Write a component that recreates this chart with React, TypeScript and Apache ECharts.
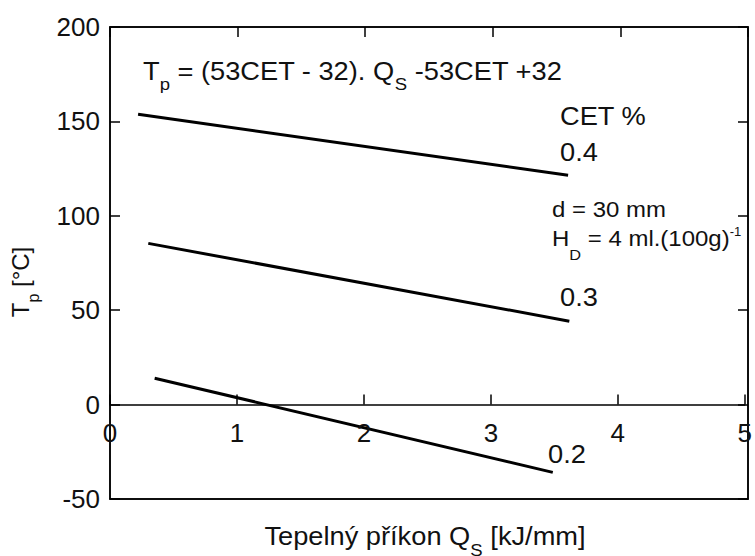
import React, { useEffect, useRef } from "react";
import * as echarts from "echarts";

// CET % levels and the end points of each line (Q_S [kJ/mm], T_p [°C])
const cetLevels = ["0.4", "0.3", "0.2"];
const qStart = [0.22, 0.3, 0.35];
const tStart = [153.8, 85.4, 14.0];
const qEnd = [3.59, 3.6, 3.47];
const tEnd = [121.5, 44.2, -35.9];

const xTicks = [0, 1, 2, 3, 4, 5];
const yTicks = [-50, 0, 50, 100, 150, 200];

const FONT = "'Liberation Sans', Arial, Helvetica, sans-serif";
const INK = "#111";
const SX = 1.09; // the original figure is slightly stretched horizontally

export default function App() {
  const ref = useRef<HTMLDivElement>(null);

  useEffect(() => {
    if (!ref.current) return;
    const chart = echarts.init(ref.current, undefined, { renderer: "svg" });

    const H = 556;
    const gridLeft = 110;
    const gridRight = 7;
    const gridTop = 27;
    const gridBottom = 57;
    const yMin = yTicks[0];
    const yMax = yTicks[yTicks.length - 1];
    const gridH = H - gridTop - gridBottom;
    // bottom offset of the y = 0 line (used for the in-plot x axis)
    const zeroBottom = gridBottom + (gridH * (0 - yMin)) / (yMax - yMin);

    const series = cetLevels.map((lvl, i) => ({
      name: lvl,
      type: "line",
      data: [
        [qStart[i], tStart[i]],
        [qEnd[i], tEnd[i]],
      ],
      showSymbol: false,
      symbol: "none",
      lineStyle: { color: "#000", width: 3 },
      xAxisIndex: 0,
      yAxisIndex: 0,
      z: 3,
    }));

    const black = { color: "#000", width: 1.5 };
    const plain = (x: number, y: number, text: string, size: number) => ({
      type: "text",
      x,
      y,
      scaleX: SX,
      style: { text, fontSize: size, fontFamily: FONT, fill: INK, align: "left", verticalAlign: "middle" },
    });

    chart.setOption({
      animation: false,
      backgroundColor: "#fff",
      textStyle: { fontFamily: FONT },
      grid: [
        {
          left: gridLeft,
          right: gridRight,
          top: gridTop,
          bottom: gridBottom,
          show: true,
          borderColor: "#000",
          borderWidth: 1.5,
          backgroundColor: "transparent",
        },
        {
          left: gridLeft,
          right: gridRight,
          top: gridTop,
          bottom: zeroBottom,
          show: false,
        },
      ],
      xAxis: [
        {
          gridIndex: 0,
          type: "value",
          min: xTicks[0],
          max: xTicks[xTicks.length - 1],
          interval: 1,
          position: "bottom",
          axisLine: { show: true, onZero: false, lineStyle: black },
          axisTick: { show: false },
          axisLabel: { show: false },
          splitLine: { show: false },
        },
        {
          gridIndex: 0,
          type: "value",
          min: xTicks[0],
          max: xTicks[xTicks.length - 1],
          interval: 1,
          position: "top",
          axisLine: { show: true, onZero: false, lineStyle: black },
          axisTick: { show: true, inside: true, length: 10, lineStyle: black },
          axisLabel: { show: false },
          splitLine: { show: false },
        },
        {
          gridIndex: 1,
          type: "value",
          min: xTicks[0],
          max: xTicks[xTicks.length - 1],
          interval: 1,
          position: "bottom",
          axisLine: { show: true, onZero: false, lineStyle: black },
          axisTick: { show: true, inside: true, length: 10, lineStyle: black },
          axisLabel: { show: true, margin: 15, fontSize: 26, color: INK, fontFamily: FONT },
          splitLine: { show: false },
          z: 4,
        },
      ],
      yAxis: [
        {
          gridIndex: 0,
          type: "value",
          min: yMin,
          max: yMax,
          interval: 50,
          position: "left",
          axisLine: { show: true, onZero: false, lineStyle: black },
          axisTick: { show: true, inside: true, length: 10, lineStyle: black },
          axisLabel: { show: true, margin: 10, fontSize: 26, color: INK, fontFamily: FONT },
          splitLine: { show: false },
        },
        {
          gridIndex: 0,
          type: "value",
          min: yMin,
          max: yMax,
          interval: 50,
          position: "right",
          axisLine: { show: true, onZero: false, lineStyle: black },
          axisTick: { show: true, inside: true, length: 10, lineStyle: black },
          axisLabel: { show: false },
          splitLine: { show: false },
        },
        {
          gridIndex: 1,
          type: "value",
          min: 0,
          max: yMax,
          show: false,
        },
      ],
      series,
      graphic: [
        {
          type: "text",
          x: 143,
          y: 71,
          scaleX: SX,
          style: {
            text: "{n|T}{sub|p}{n| = (53CET - 32). Q}{sub|S}{n| -53CET +32}",
            align: "left",
            verticalAlign: "middle",
            rich: {
              n: { fontSize: 25, fontFamily: FONT, fill: INK },
              sub: { fontSize: 17, fontFamily: FONT, fill: INK, padding: [27, 0, 0, 0] },
            },
          },
        },
        plain(560, 116, "CET %", 25),
        plain(560, 152, cetLevels[0], 25),
        plain(560, 297, cetLevels[1], 25),
        plain(548, 454, cetLevels[2], 25),
        plain(552, 209, "d = 30 mm", 22),
        {
          type: "text",
          x: 552,
          y: 238,
          scaleX: SX,
          style: {
            text: "{n|H}{sub|D}{n| = 4 ml.(100g)}{sup|-1}",
            align: "left",
            verticalAlign: "middle",
            rich: {
              n: { fontSize: 22, fontFamily: FONT, fill: INK },
              sub: { fontSize: 15, fontFamily: FONT, fill: INK, padding: [34, 0, 0, 0] },
              sup: { fontSize: 12, fontFamily: FONT, fill: INK, padding: [0, 0, 12, 0] },
            },
          },
        },
        {
          type: "text",
          x: 425,
          y: 536,
          scaleX: SX,
          style: {
            text: "{n|Tepelný příkon Q}{sub|S}{n| [kJ/mm]}",
            align: "center",
            verticalAlign: "middle",
            rich: {
              n: { fontSize: 25, fontFamily: FONT, fill: INK },
              sub: { fontSize: 17, fontFamily: FONT, fill: INK, padding: [28, 0, 0, 0] },
            },
          },
        },
        {
          type: "text",
          x: 20,
          y: 282,
          rotation: Math.PI / 2,
          style: {
            text: "{n|T}{sub|p}{n| [°C]}",
            align: "center",
            verticalAlign: "middle",
            rich: {
              n: { fontSize: 24, fontFamily: FONT, fill: INK },
              sub: { fontSize: 16, fontFamily: FONT, fill: INK, padding: [26, 0, 0, 0] },
            },
          },
        },
      ],
    });

    return () => chart.dispose();
  }, []);

  return (
    <div
      ref={ref}
      style={{ position: "fixed", left: 0, top: 0, width: 755, height: 556, background: "#fff" }}
    />
  );
}
